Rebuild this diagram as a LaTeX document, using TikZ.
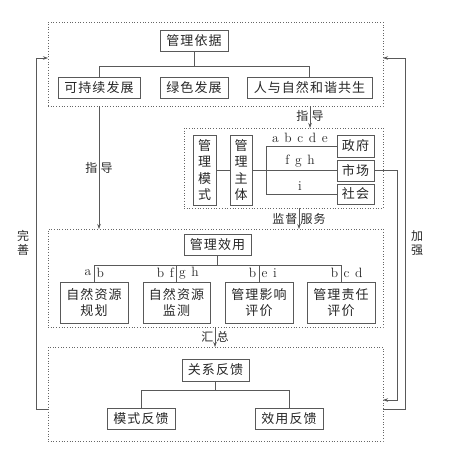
\documentclass[tikz,border=0pt]{standalone}
\usepackage{fontspec}
\newfontfamily\cjk[LetterSpace=8]{Noto Sans CJK SC}
\usetikzlibrary{arrows.meta,positioning,calc}
\newcommand\gp{\hspace{0.42em}}

\begin{document}
\begin{tikzpicture}[x=1pt,y=-1pt,
  box/.style={draw=black!65,line width=0.6pt,inner sep=0pt,outer sep=0pt,
    font=\cjk\fontsize{13}{16.5}\selectfont,text=black!85,minimum height=21},
  vbox/.style={box,align=center,minimum width=22,minimum height=70},
  frame/.style={draw=black!60,dotted,line width=0.7pt,inner sep=0pt,outer sep=0pt},
  wire/.style={draw=black!65,line width=0.6pt},
  arr/.style={wire,-{Stealth[length=5pt,width=3.5pt]}},
  lab/.style={font=\cjk\fontsize{12}{14}\selectfont,text=black!85,inner sep=1.5pt},
  let/.style={font=\fontsize{13.5}{14}\selectfont,text=black!85,inner sep=2.5pt}]
\useasboundingbox (0,0) rectangle (450,452);
% dotted frames
\node[frame,minimum width=335,minimum height=84] (topF) at (215.5,64) {};
\node[frame,minimum width=199,minimum height=80] (midF) at (283.5,168) {};
\node[frame,minimum width=335,minimum height=98] (effF) at (215.5,278) {};
\node[frame,minimum width=335,minimum height=94] (fbF) at (215.5,394) {};
% management basis
\node[box,minimum width=68] (basis) at (194,41) {管理依据};
\node[box,minimum width=82] (sust) at (99,87.5) {可持续发展};
\node[box,minimum width=68] (green) at (194,87.5) {绿色发展};
\node[box,minimum width=125] (harm) at (309.5,87.5) {人与自然和谐共生};
\coordinate (bj) at (0,66);
\draw[wire] (basis.south) -- (basis.south |- bj);
\draw[wire] (sust.north) -- (sust.north |- bj) -| (harm.north);
% mode and subjects
\node[vbox,minimum width=23] (mode) at (204.5,170) {管\\理\\模\\式};
\node[vbox] (subj) at (241,170) {管\\理\\主\\体};
\node[box,minimum width=37,minimum height=22] (gov) at (355.5,146) {政府};
\node[box,minimum width=37] (mkt) at (355.5,170.5) {市场};
\node[box,minimum width=37,minimum height=20] (soc) at (355.5,194) {社会};
\coordinate (split) at (266,170);
\draw[wire] (mode.east) -- (mode.east -| subj.west);
\draw[wire] (subj.east |- mkt.west) -- (mkt.west);
\draw[wire] (gov.west) -- (gov.west -| split) -- (soc.west -| split) -- (soc.west);
\node[let] (lg) at (300,138) {a\gp b\gp c\gp d\gp e};
\node[let] (lm) at (300,161) {f\gp g\gp h};
\node[let] (ls) at (300,186) {i};
% management effect
\node[box,minimum width=67] (eff) at (217.5,244.5) {管理效用};
\node[box,align=center,minimum width=68,minimum height=41] (plan) at (94,302.5) {自然资源\\规划};
\node[box,align=center,minimum width=67,minimum height=41] (moni) at (176.5,302.5) {自然资源\\监测};
\node[box,align=center,minimum width=68,minimum height=41] (impa) at (259,302.5) {管理影响\\评价};
\node[box,align=center,minimum width=68,minimum height=41] (resp) at (341,302.5) {管理责任\\评价};
\coordinate (ej) at (0,265);
\draw[wire] (eff.south) -- (eff.south |- ej);
\draw[wire] (plan.north) -- (plan.north |- ej) -| (resp.north);
\draw[wire] (moni.north) -- (moni.north |- ej);
\draw[wire] (impa.north) -- (impa.north |- ej);
\foreach \n/\l/\r in {plan/a/b,moni/b\gp f/g\gp h,impa/b/e\gp i,resp/b/c\gp d}{
  \node[let,left] at ($(\n.north)+(0,-9)$) {\l};
  \node[let,right] at ($(\n.north)+(0,-9)$) {\r};
}
% relation feedback
\node[box,minimum width=67,minimum height=22] (rel) at (215.5,370) {关系反馈};
\node[box,minimum width=68] (modefb) at (141,418.5) {模式反馈};
\node[box,minimum width=68] (efffb) at (289,418.5) {效用反馈};
\coordinate (fj) at (0,390);
\draw[wire] (rel.south) -- (rel.south |- fj);
\draw[wire] (modefb.north) -- (modefb.north |- fj) -| (efffb.north);
% flows between frames
\draw[arr] (topF.south -| sust) -- (effF.north -| sust);
\node[lab,left] at (99,168) {指};
\node[lab,right] at (99,168) {导};
\draw[arr] (topF.south -| 310,0) -- (midF.north -| 310,0);
\node[lab,left] at (310,116) {指};
\node[lab,right] at (310,116) {导};
\draw[arr] (midF.south -| 299,0) -- (effF.north -| 299,0);
\node[lab,left] at (299,219) {监督};
\node[lab,right] at (299,219) {服务};
\draw[arr] (effF.south -| 215,0) -- (fbF.north -| 215,0);
\node[lab,left] at (215,337) {汇};
\node[lab,right] at (215,337) {总};
% feedback loops
\draw[arr] (fbF.west |- 0,409) -- (36,409) -- (36,58) -- (topF.west |- 0,58);
\node[lab,align=center] (perf) at (23,243) {完\\善};
\draw[arr] (fbF.east |- 0,409) -- (405,409) -- (405,58) -- (topF.east |- 0,58);
\node[lab,align=center] (stre) at (417,243) {加\\强};
\draw[arr] (mkt.east) -- (397,170.5) -- (397,400) -- (fbF.east |- 0,400);
\end{tikzpicture}
\end{document}
